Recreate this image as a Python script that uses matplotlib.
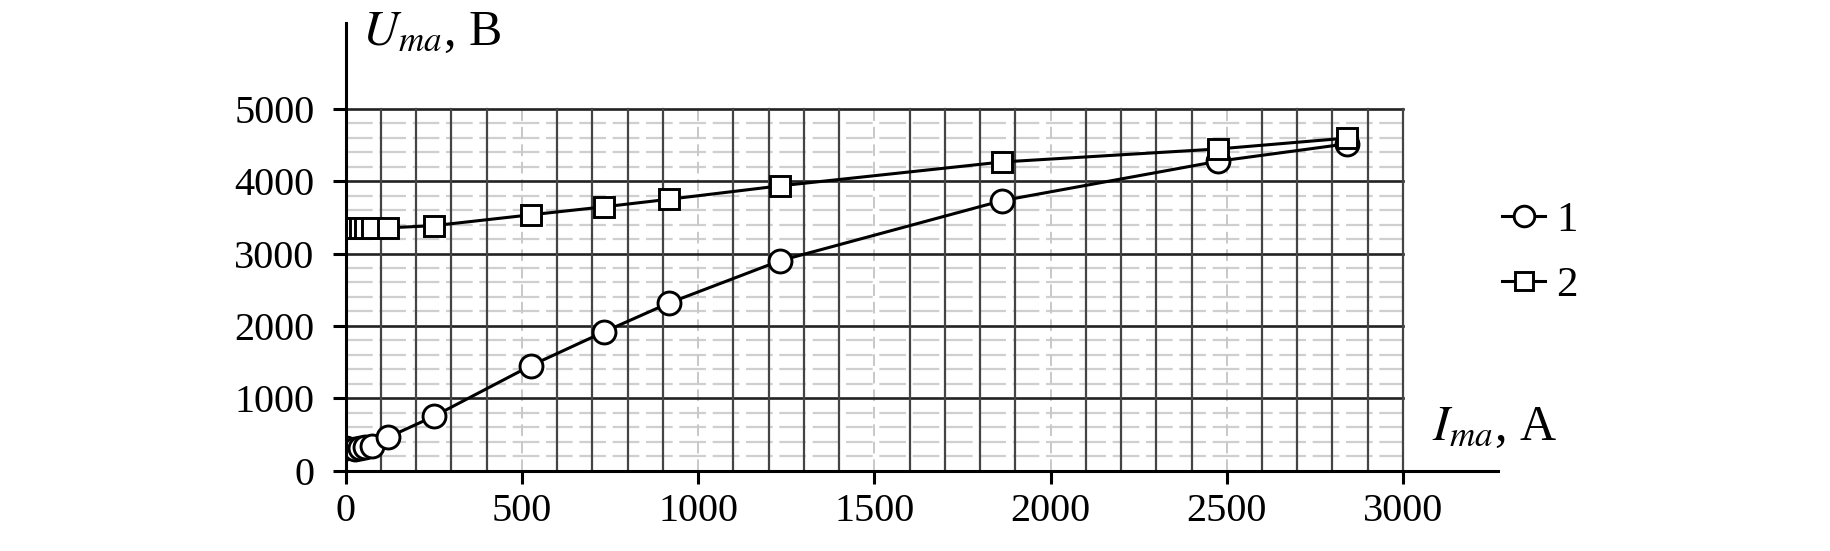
import numpy as np
import matplotlib
matplotlib.use("Agg")
import matplotlib.pyplot as plt

# ---- data ----
current = [0, 25, 40, 55, 75, 120, 250, 525, 732, 917, 1232, 1862, 2475, 2840]
series1 = [310, 300, 310, 330, 345, 460, 750, 1450, 1915, 2315, 2900, 3730, 4275, 4515]
series2 = [3350, 3350, 3350, 3350, 3350, 3355, 3385, 3535, 3645, 3750, 3935, 4265, 4445, 4595]
x_ticks = [0, 500, 1000, 1500, 2000, 2500, 3000]
y_ticks = [0, 1000, 2000, 3000, 4000, 5000]
labels = ["1", "2"]

plt.rcParams['mathtext.fontset'] = 'stix'
SERIF = ['Liberation Serif', 'DejaVu Serif']

fig = plt.figure(figsize=(18.31, 5.51), dpi=100)
ax = fig.add_axes([0.1888, 0.1459, 0.6294, 0.8116])
XMAX, YMAX = 3000, 5000
ax.set_xlim(0, 3270)
ax.set_ylim(0, 6180)

# grid
for y in np.arange(200, YMAX, 200):
    if y % 1000 != 0:
        ax.plot([0, XMAX], [y, y], color='#cfcfcf', lw=1.6, ls=(0, (12, 3)), zorder=1)
for y in y_ticks[1:]:
    ax.plot([0, XMAX], [y, y], color='#222222', lw=1.9, zorder=2)
for x in np.arange(100, XMAX + 1, 100):
    if x % 500 == 0 and x != XMAX:
        ax.plot([x, x], [0, YMAX], color='#c8c8c8', lw=1.4, ls=(0, (6, 3)), zorder=1)
    else:
        ax.plot([x, x], [0, YMAX], color='#444444', lw=1.6, zorder=2)

mk = dict(color='black', lw=2.2, mfc='white', mec='black', mew=2.1, zorder=4)
l1, = ax.plot(current, series1, marker='o', ms=16.5, label=labels[0], **mk)
l2, = ax.plot(current, series2, marker='s', ms=14.5, label=labels[1], **mk)

for s in ['top', 'right']:
    ax.spines[s].set_visible(False)
for s in ['left', 'bottom']:
    ax.spines[s].set_linewidth(2.2)
    ax.spines[s].set_zorder(5)

ax.set_xticks(x_ticks)
ax.set_yticks(y_ticks)
ax.tick_params(axis='y', direction='out', length=9.5, width=2.2, pad=13, labelsize=29)
ax.tick_params(axis='x', direction='out', length=9, width=2.2, pad=7, labelsize=29)
for t in ax.get_xticklabels() + ax.get_yticklabels():
    t.set_family(SERIF)

fig.text(362 / 1831, 1 - 33 / 551, r"$U_{ma}$, B", fontsize=36, family=SERIF,
         va='center', ha='left')
fig.text(1432 / 1831, 1 - 428 / 551, r"$I_{ma}$, A", fontsize=36, family=SERIF,
         va='center', ha='left')

leg = fig.legend(handles=[l1, l2], loc='center left', bbox_to_anchor=(1502 / 1831, 1 - 253 / 551),
                 frameon=False, prop={'family': SERIF, 'size': 31}, handlelength=1.0,
                 handletextpad=0.25, labelspacing=0.6, borderpad=0, borderaxespad=0,
                 markerscale=0.9)

fig.savefig('out.png', dpi=100)
